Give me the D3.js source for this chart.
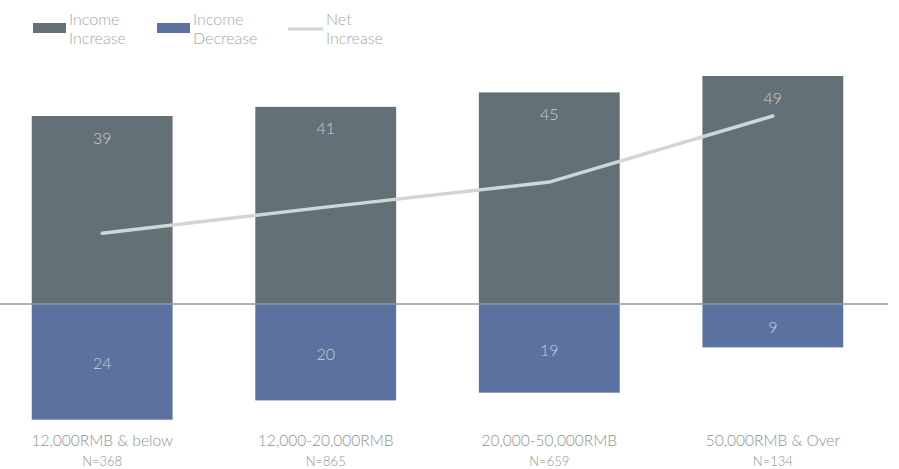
<!DOCTYPE html>
<html>
<head>
<meta charset="utf-8">
<script src="https://cdn.jsdelivr.net/npm/d3@7"></script>
<style>
  html, body { margin: 0; padding: 0; background: #fff; }
  svg { display: block; font-family: Lato, "Open Sans", sans-serif; font-weight: 300; }
</style>
</head>
<body>
<svg id="chart" width="899" height="469"></svg>
<script>
const categories = ["12,000RMB & below", "12,000-20,000RMB", "20,000-50,000RMB", "50,000RMB & Over"];
const sampleSizes = ["N=368", "N=865", "N=659", "N=134"];
const incomeIncrease = [39, 40.9, 43.9, 47.3];
const incomeDecrease = [24, 20, 18.4, 9];
const netIncrease = [14.7, 20.1, 25.3, 39.0];
const increaseLabels = ["39", "41", "45", "49"];
const decreaseLabels = ["24", "20", "19", "9"];
const legendItems = [
  { lines: ["Income", "Increase"], type: "rect", color: "#637075" },
  { lines: ["Income", "Decrease"], type: "rect", color: "#5b72a0" },
  { lines: ["Net", "Increase"], type: "line", color: "#d0d5d6" }
];

const colors = { inc: "#637075", dec: "#5b72a0", net: "#d0d5d6", axis: "#8e9b9b", barText: "#c9cfd3", catText: "#8a9393", legendText: "#a3aaab" };

const svg = d3.select("#chart");

const x = d3.scaleBand().domain(categories).range([0, 875]).paddingInner(0.37).paddingOuter(0.142);
const y = d3.scaleLinear().domain([-25, 50]).range([424.5, 63]);

const data = categories.map((c, i) => ({ c, inc: incomeIncrease[i], dec: incomeDecrease[i], net: netIncrease[i], il: increaseLabels[i], dl: decreaseLabels[i], n: sampleSizes[i] }));

// increase bars
svg.append("g").selectAll("rect").data(data).join("rect")
  .attr("x", d => x(d.c)).attr("width", x.bandwidth())
  .attr("y", d => y(d.inc)).attr("height", d => y(0) - y(d.inc))
  .attr("fill", colors.inc);

// decrease bars
svg.append("g").selectAll("rect").data(data).join("rect")
  .attr("x", d => x(d.c)).attr("width", x.bandwidth())
  .attr("y", y(0)).attr("height", d => y(-d.dec) - y(0))
  .attr("fill", colors.dec);

// zero line
svg.append("line").attr("x1", 0).attr("x2", 888).attr("y1", y(0)).attr("y2", y(0))
  .attr("stroke", colors.axis).attr("stroke-width", 1.5);

// net line
const line = d3.line().x(d => x(d.c) + x.bandwidth() / 2).y(d => y(d.net));
svg.append("path").datum(data).attr("d", line)
  .attr("fill", "none").attr("stroke", colors.net).attr("stroke-width", 3.5).attr("stroke-linecap", "round");

// bar labels
svg.append("g").selectAll("text").data(data).join("text")
  .attr("x", d => x(d.c) + x.bandwidth() / 2).attr("y", d => y(d.inc) + 21)
  .attr("text-anchor", "middle").attr("dominant-baseline", "central")
  .attr("font-size", 16).attr("fill", colors.barText).text(d => d.il);

svg.append("g").selectAll("text").data(data).join("text")
  .attr("x", d => x(d.c) + x.bandwidth() / 2).attr("y", d => (y(0) + y(-d.dec)) / 2 + 1)
  .attr("text-anchor", "middle").attr("dominant-baseline", "central")
  .attr("font-size", 16).attr("fill", colors.barText).text(d => d.dl);

// category labels
const cat = svg.append("g").selectAll("g").data(data).join("g");
cat.append("text").attr("x", d => x(d.c) + x.bandwidth() / 2).attr("y", 440)
  .attr("text-anchor", "middle").attr("dominant-baseline", "central")
  .attr("font-size", 15.5).attr("fill", colors.catText).text(d => d.c);
cat.append("text").attr("x", d => x(d.c) + x.bandwidth() / 2).attr("y", 461)
  .attr("text-anchor", "middle").attr("dominant-baseline", "central")
  .attr("font-size", 13).attr("fill", colors.catText).text(d => d.n);

// legend
const legendX = [33, 157, 288];
const lg = svg.append("g").selectAll("g").data(legendItems).join("g")
  .attr("transform", (d, i) => `translate(${legendX[i]},0)`);
lg.filter(d => d.type === "rect").append("rect")
  .attr("x", 0).attr("y", 23).attr("width", 33).attr("height", 10).attr("fill", d => d.color);
lg.filter(d => d.type === "line").append("line")
  .attr("x1", 0).attr("x2", 35).attr("y1", 29).attr("y2", 29)
  .attr("stroke", d => d.color).attr("stroke-width", 3);
lg.each(function(d) {
  const g = d3.select(this);
  const tx = d.type === "rect" ? 36 : 38;
  d.lines.forEach((t, j) => {
    g.append("text").attr("x", tx).attr("y", 18 + j * 19)
      .attr("dominant-baseline", "central").attr("font-size", 16)
      .attr("fill", colors.legendText).text(t);
  });
});
</script>
</body>
</html>
